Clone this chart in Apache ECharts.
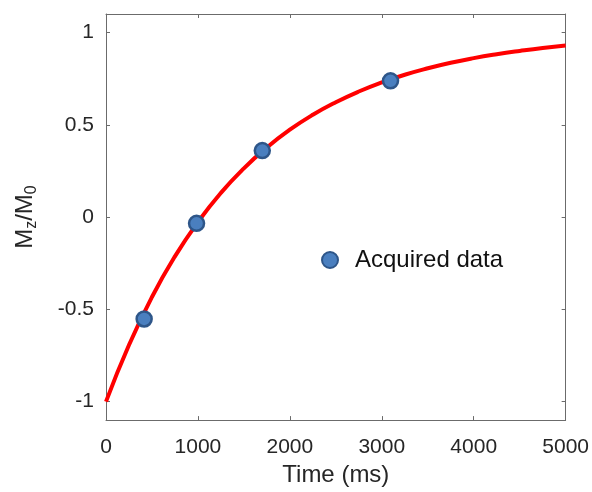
<!DOCTYPE html>
<html>
<head>
<meta charset="utf-8">
<script src="https://cdn.jsdelivr.net/npm/echarts@6/dist/echarts.min.js"></script>
<style>
  html, body { margin: 0; padding: 0; background: #fff; }
  #chart { width: 592px; height: 492px; }
</style>
</head>
<body>
<div id="chart"></div>
<script>
// Inversion-recovery fit curve (time in ms, Mz/M0)
const curveTime = [0, 250, 500, 750, 1000, 1250, 1500, 1750, 2000, 2250, 2500,
                   2750, 3000, 3250, 3500, 3750, 4000, 4250, 4500, 4750, 5000];
const curveMz = [-1.0, -0.693, -0.433, -0.213, -0.027, 0.131, 0.264, 0.377, 0.473, 0.554, 0.622,
                 0.680, 0.729, 0.771, 0.806, 0.836, 0.861, 0.882, 0.900, 0.916, 0.929];

// Measured samples
const sampleTime = [415, 985, 1700, 3095];
const sampleMz = [-0.552, -0.034, 0.36, 0.738];

// Axis ticks
const xTicks = [0, 1000, 2000, 3000, 4000, 5000];
const yTicks = [-1, -0.5, 0, 0.5, 1];

const axisGray = '#6b6b6b';
const textColor = '#262626';
const fontFamily = 'Arial, "Liberation Sans", Helvetica, sans-serif';
const tickFont = 21;
const titleFont = 24;

const chart = echarts.init(document.getElementById('chart'), null, { renderer: 'canvas' });

function frameAxis(extra) {
  return Object.assign({
    axisLine: { show: true, onZero: false, lineStyle: { color: axisGray, width: 1 } },
    splitLine: { show: false }
  }, extra);
}

function ticks(values) {
  return { show: true, inside: true, length: 4, customValues: values, lineStyle: { color: axisGray, width: 1 } };
}

const option = {
  backgroundColor: '#ffffff',
  animation: false,
  grid: { left: 106, top: 14, right: 20, bottom: 69, containLabel: false },
  xAxis: [
    frameAxis({
      type: 'value', position: 'bottom', min: 0, max: 5000, interval: 1000,
      name: 'Time (ms)', nameLocation: 'middle', nameGap: 33,
      nameTextStyle: { color: textColor, fontSize: titleFont, fontFamily: fontFamily },
      axisTick: ticks(xTicks),
      axisLabel: {
        color: textColor, fontSize: tickFont, fontFamily: fontFamily, margin: 17, customValues: xTicks,
        formatter: function (v) { return String(v); }
      }
    }),
    frameAxis({
      type: 'value', position: 'top', min: 0, max: 5000, interval: 1000,
      axisTick: ticks(xTicks),
      axisLabel: { show: false }
    })
  ],
  yAxis: [
    frameAxis({
      type: 'value', position: 'left', min: -1.1, max: 1.1,
      name: 'M{sub|z}/M{sub|0}', nameLocation: 'middle', nameGap: 68, nameRotate: 90,
      nameTextStyle: {
        color: textColor, fontSize: titleFont, fontFamily: fontFamily, lineHeight: 26,
        rich: {
          sub: { fontSize: 16, fontFamily: fontFamily, color: textColor, lineHeight: 16, padding: [14, 0, 0, 0] }
        }
      },
      axisTick: ticks(yTicks),
      axisLabel: {
        color: textColor, fontSize: tickFont, fontFamily: fontFamily, margin: 12, customValues: yTicks,
        formatter: function (v) { return String(v); }
      }
    }),
    frameAxis({
      type: 'value', position: 'right', min: -1.1, max: 1.1,
      axisTick: ticks(yTicks),
      axisLabel: { show: false }
    })
  ],
  legend: {
    data: ['Acquired data'],
    left: 316, top: 243,
    orient: 'vertical',
    icon: 'circle',
    itemWidth: 16, itemHeight: 16,
    textStyle: { color: '#111', fontSize: titleFont, fontFamily: fontFamily, padding: [0, 0, 0, 12] },
    selectedMode: false
  },
  series: [
    {
      name: 'Fit',
      type: 'line',
      data: curveTime.map((t, i) => [t, curveMz[i]]),
      smooth: true,
      showSymbol: false,
      symbol: 'none',
      lineStyle: { color: '#ff0000', width: 4 },
      z: 2
    },
    {
      name: 'Acquired data',
      type: 'scatter',
      data: sampleTime.map((t, i) => [t, sampleMz[i]]),
      symbol: 'circle',
      symbolSize: 15,
      itemStyle: { color: '#4a7fbf', borderColor: '#2e5689', borderWidth: 2.5, opacity: 1 },
      z: 3
    }
  ]
};

chart.setOption(option);
</script>
</body>
</html>
